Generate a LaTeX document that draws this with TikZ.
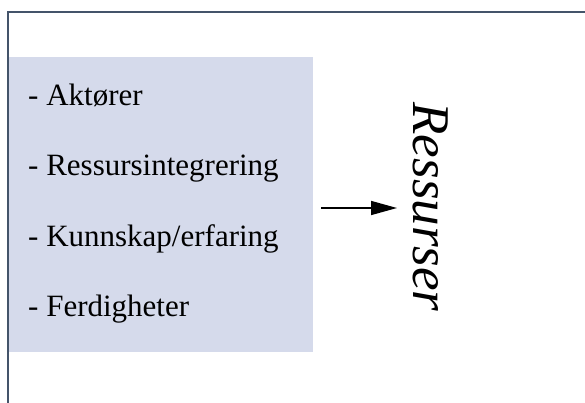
\documentclass[tikz,border=0pt]{standalone}
\usepackage{fontspec}
\setmainfont{Liberation Serif}
\usetikzlibrary{arrows.meta}
\definecolor{framecol}{HTML}{44546A}
\definecolor{boxfill}{HTML}{D5DAEB}
\tikzset{
  item/.style={anchor=base west, inner sep=0pt, font=\fontsize{31}{37}\selectfont},
  frameline/.style={draw=framecol, line width=2pt},
  flow/.style={line width=1.5pt, -{Triangle[length=26pt,width=14pt]}},
}
\begin{document}
\begin{tikzpicture}[x=1pt,y=-1pt]
  \useasboundingbox (0,0) rectangle (585,403);
  % shaded panel
  \node[fill=boxfill, inner sep=0pt, minimum width=304pt, minimum height=295pt, anchor=north west] (box) at (9,57) {};
  % open frame: top and left edges
  \draw[frameline] (8,403) -- (8,12) -- (585,12);
  % list entries
  \node[item] (i1) at (28,106) {- Aktører};
  \node[item] (i2) at (28,176) {- Ressursintegrering};
  \node[item] (i3) at (28,246) {- Kunnskap/erfaring};
  \node[item] (i4) at (28,316) {- Ferdigheter};
  % rotated heading
  \node[rotate=-90, inner sep=0pt, font=\fontsize{53}{60}\selectfont\itshape] (res) at (431,207) {Ressurser};
  \coordinate (tip) at (397,208);
  \draw[flow] ([xshift=8pt]box.east |- tip) -- (tip);
\end{tikzpicture}
\end{document}
